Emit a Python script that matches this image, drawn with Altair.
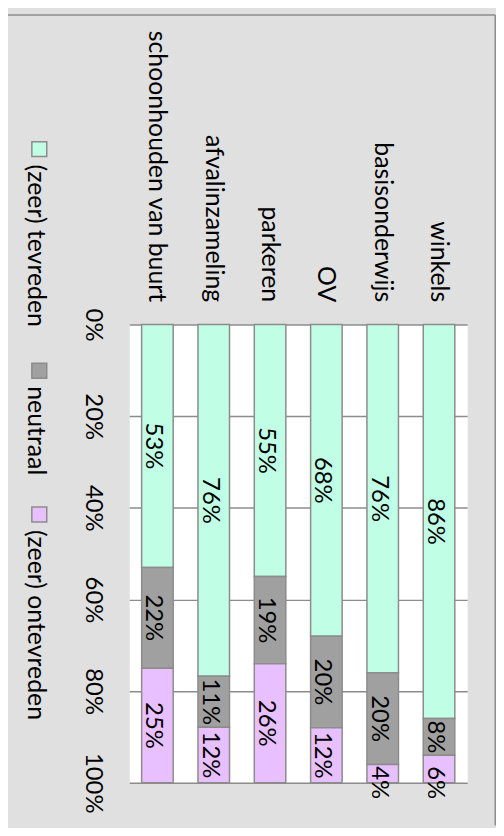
import altair as alt
import pandas as pd

# ---- data ----
categories = ["schoonhouden van buurt", "afvalinzameling", "parkeren", "OV",
              "basisonderwijs", "winkels"]
series = ["(zeer) tevreden", "neutraal", "(zeer) ontevreden"]
tevreden = [53, 76, 55, 68, 76, 86]
neutraal = [22, 11, 19, 20, 20, 8]
ontevreden = [25, 12, 26, 12, 4, 6]
pct_ticks = [0, 0.2, 0.4, 0.6, 0.8, 1.0]

# ---- styles ----
colors = ["#c0ffe6", "#a0a0a0", "#e8c0ff"]
FONT = "Lato"
LINE = "#8c8c8c"
BG = "#e0e0e0"
PLOT_W, PLOT_H = 340, 461
PAD = {"left": 122, "top": 316, "right": 29, "bottom": 43}
SMALL_SEG = 0.065   # segments thinner than this get their label pushed to the bar end

rows = []
for i, c in enumerate(categories):
    for j, vals in enumerate([tevreden, neutraal, ontevreden]):
        rows.append({"category": c, "series": series[j], "order": j, "value": vals[i]})
df = pd.DataFrame(rows)

# legend laid out as a flow (like the rotated horizontal legend)
LEG_START = -184     # offset of first legend item relative to plot top
SQ, SQ_PAD, GAP, CHAR_PX = 15, 8, 32, 11.2
leg_rows = []
pos = LEG_START
for j, s in enumerate(series):
    leg_rows.append({"series": s, "sq_y": pos + SQ / 2, "tx_y": pos + SQ + SQ_PAD})
    pos += SQ + SQ_PAD + len(s) * CHAR_PX + GAP
leg_df = pd.DataFrame(leg_rows)

color = alt.Color("series:N", scale=alt.Scale(domain=series, range=colors), legend=None)

x_enc = alt.X(
    "category:N", sort=categories,
    scale=alt.Scale(paddingInner=0.44, paddingOuter=0.22),
    axis=alt.Axis(orient="top", title=None, labelAngle=90, labelAlign="right",
                  labelBaseline="middle", labelPadding=23, ticks=False, domain=False,
                  grid=False, labelFont=FONT, labelFontSize=25, labelColor="black",
                  labelLimit=500, labelOverlap=False),
)
y_scale = alt.Scale(domain=[0, 1], reverse=True, nice=False, zero=False)

base = alt.Chart(df).transform_stack(
    stack="value", groupby=["category"], as_=["v0", "v1"],
    sort=[alt.SortField(field="order", order="ascending")], offset="normalize",
).transform_calculate(
    mid=f"(datum.v1 - datum.v0) < {SMALL_SEG} ? datum.v1 : (datum.v0 + datum.v1) / 2",
    label="datum.value + '%'",
)

bars = base.mark_bar(stroke=LINE, strokeWidth=1.5).encode(
    x=x_enc,
    y=alt.Y("v0:Q", scale=y_scale,
            axis=alt.Axis(values=pct_ticks, format=".0%", title=None, orient="left",
                          labelAngle=90, labelAlign="center", labelBaseline="top",
                          labelPadding=25, ticks=False, domain=False, grid=True,
                          gridColor=LINE, gridWidth=1.5, gridOpacity=1,
                          labelFont=FONT, labelFontSize=24, labelColor="black",
                          labelFlush=False, labelOverlap=False)),
    y2="v1:Q",
    color=color,
    order=alt.Order("order:Q"),
)

labels = base.mark_text(angle=90, align="center", baseline="middle", dy=4, font=FONT,
                        fontSize=24, color="black").encode(
    x=alt.X("category:N", sort=categories),
    y=alt.Y("mid:Q", scale=y_scale, axis=None),
    text="label:N",
)

leg_sq = alt.Chart(leg_df).mark_square(size=SQ * SQ, filled=True, opacity=1,
                                       stroke=LINE, strokeWidth=1.5).encode(
    x=alt.value(-90.5),
    y=alt.Y("sq_y:Q", scale=alt.Scale(domain=[0, PLOT_H], range=[0, PLOT_H]), axis=None),
    color=color,
)
leg_tx = alt.Chart(leg_df).mark_text(angle=90, align="left", baseline="middle",
                                     font=FONT, fontSize=25, color="black").encode(
    x=alt.value(-94),
    y=alt.Y("tx_y:Q", scale=alt.Scale(domain=[0, PLOT_H], range=[0, PLOT_H]), axis=None),
    text="series:N",
)

frame_df = pd.DataFrame({"k": [0]})
frame_top = alt.Chart(frame_df).mark_rule(color=LINE, strokeWidth=1.5).encode(
    x=alt.value(-PAD["left"]), x2=alt.value(PLOT_W + PAD["right"] - 0.75),
    y=alt.value(-PAD["top"] + 4.5),
)
frame_right = alt.Chart(frame_df).mark_rule(color=LINE, strokeWidth=1.5).encode(
    x=alt.value(PLOT_W + PAD["right"] - 0.75),
    y=alt.value(-PAD["top"] + 4.5), y2=alt.value(PLOT_H + PAD["bottom"]),
)

chart = alt.layer(bars, labels, leg_sq, leg_tx, frame_top, frame_right).resolve_scale(
    y="independent"
).properties(
    width=PLOT_W, height=PLOT_H,
    padding=PAD,
    autosize=alt.AutoSizeParams(type="none"),
    background=BG,
).configure_view(fill="white", stroke="transparent")

chart.save("out.html", embed_options={"renderer": "svg", "actions": False})
